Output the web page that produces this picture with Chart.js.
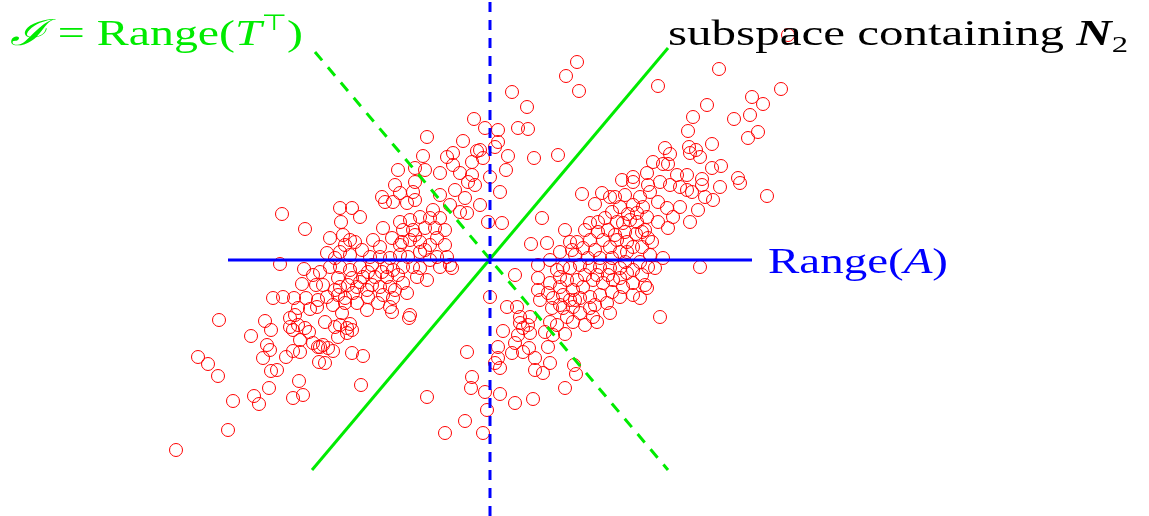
<!DOCTYPE html>
<html lang="en">
<head>
<meta charset="UTF-8">
<title>Range(A) and subspaces</title>
<script src="https://cdn.jsdelivr.net/npm/chart.js"></script>
<style>
  html, body { margin: 0; padding: 0; background: #fff; }
  #wrap { width: 1149px; height: 516px; position: relative; }
</style>
</head>
<body>
<div id="wrap"><canvas id="chart"></canvas></div>
<script>
// sample cloud (centre of the picture = origin)
const sampleX = [
  -16,-63,-27,-67,-43,-37,-37,-18,-13,-92,-75,-65,-50,-30,-18,
  87,76,89,22,37,-5,8,28,38,8,5,-10,18,44,68,-7,16,0,143,
  229,168,291,262,273,217,203,260,244,198,268,258,222,175,199,206,200,180,210,163,173,178,222,231,157,187,197,212,248,298,132,
  -208,-185,-210,-186,-177,-188,-174,-217,-207,-196,-184,-192,-180,-195,-200,-173,
  -271,-225,-219,-239,-200,-192,-185,-197,-181,-190,-223,-220,-227,-177,-172,-204,-197,-190,-171,-292,-282,-272,-219,-213,-191,-221,-236,-231,-257,-197,-187,-262,-314,
  -81,-165,-155,-150,-143,-138,-140,-152,-143,-167,-162,-157,-170,-165,-138,-127,-129,-63,-23,-18,-19,-25,-45,
  30,38,33,40,28,60,67,55,63,75,83,95,107,13,25,22,33,39,58,8,5,10,8,45,45,53,60,84,86,75,-5,10,25,43,-3,-7,
  -95,-75,-22,-15,-108,-105,-97,-90,-77,-75,-83,-150,-138,-130,-149,-57,-60,-25,-23,-30,
  -90,-80,-70,-107,-87,-77,-55,-45,-53,-160,-147,-140,-135,-145,-163,-150,
  -117,-110,-98,-88,-80,-70,-60,-70,-45,-43,-120,-110,-100,-90,-82,-53,-60,-40,
  -160,-150,-140,-130,-122,-103,-97,-87,-77,-70,-50,-38,
  -152,-138,-127,-115,-103,-92,-73,-63,-167,-150,-142,-133,-123,-110,-100,-87,
  -163,-152,-137,-122,-107,-97,-83,-157,-145,-133,-112,-100,-148,-123,-98,-80,
  -10,10,-2,12,52,92,105,112,120,125,143,143,41,57,
  100,108,118,127,133,140,147,147,80,87,82,93,100,105,113,120,127,137,143,130,137,
  48,60,25,48,67,73,80,90,100,110,120,130,137,143,
  48,60,70,77,87,83,93,103,113,123,133,143,
  0,50,63,73,80,90,100,110,117,130,143,
  17,27,62,73,83,90,100,120,30,40,77,103,
  170,180,190,197,202,212,230,250,215,223,277,150,160,168,177,190,208,183,200,178,168,157,153,
  158,162,152,173,165,158,210,157,150,170,155,160,152,155,
  122,130,138,115,152,146,135,125,108,95,85,98,110,122,135,150,95,107,118,130,70,85,105,70,58,122,70,75,135,158,
  -155,-140,-128,-118,-108,-130,-118,-155,-145,-90,-75,-65,-50,-40,-35,-50,-65,-95,-170,-172
];
const sampleY = [
  141,123,119,104,103,107,95,98,109,90,92,90,87,87,85,
  198,184,169,168,153,132,130,132,131,118,113,110,104,102,105,102,90,83,83,
  191,174,171,163,156,155,143,145,141,129,128,122,116,112,113,110,107,106,103,98,96,96,92,94,87,85,85,81,82,225,80,
  46,31,-4,-9,-15,-24,-25,-38,-37,-38,-38,-48,-49,-55,-58,-47,
  -60,-61,-70,-76,-67,-65,-68,-70,-72,-80,-85,-90,-98,-83,-87,-97,-91,-92,-102,-97,-104,-116,-111,-110,-121,-128,-136,-144,-141,-138,-135,-170,-190,
  -58,-62,-67,-65,-68,-70,-64,-77,-73,-85,-88,-91,-87,-103,-93,-96,-125,-137,-92,-117,-128,-161,-173,
  -63,-65,-68,-73,-75,-62,-65,-72,-75,-74,-62,-65,-62,-71,-83,-93,-92,-88,-87,-87,-103,-108,-98,-98,-110,-113,-103,-105,-114,-128,-132,-134,-143,-139,-150,-173,
  75,78,78,75,63,58,58,67,68,60,57,52,52,43,38,50,42,62,47,48,
  38,40,43,32,30,30,32,30,22,22,25,20,18,15,7,8,
  20,13,22,18,20,18,15,8,15,3,3,3,2,5,3,3,0,-5,
  -7,-7,-10,-7,-12,-7,-10,-7,-7,-8,-7,-8,
  -18,-18,-17,-17,-17,-15,-17,-20,-25,-27,-25,-27,-30,-27,-27,-23,
  -37,-35,-33,-37,-35,-38,-33,-45,-43,-43,-43,-47,-53,-50,-52,-55,
  55,68,38,37,42,66,56,67,63,63,78,55,16,17,
  37,38,30,38,37,40,38,47,18,18,10,12,20,10,20,13,20,18,13,8,8,
  -5,0,-15,-18,-10,-7,-8,-5,-7,-7,-8,-8,-13,-10,
  -30,-23,-17,-20,-20,-30,-27,-20,-23,-20,-27,-23,
  -37,-40,-38,-35,-40,-38,-37,-35,-43,-37,-35,
  -47,-47,-48,-48,-47,-53,-48,-53,-57,-57,-57,-57,
  78,75,73,70,68,75,73,77,63,60,64,63,68,58,52,53,50,43,38,32,38,43,53,
  22,18,13,2,-8,-7,-7,-28,-38,-57,30,5,-15,-25,
  48,53,46,42,28,26,28,25,28,30,5,2,2,2,-2,-2,-15,-15,-15,-18,-27,-40,-45,-45,-33,-32,8,30,65,75,
  2,5,10,-5,-12,-22,-25,-30,-38,15,25,32,42,55,70,65,10,-30,-12,-40
];

// reference lines: [x0, x1] / [y0, y1]
const rangeAX = [-262, 262],  rangeAY = [0, 0];
const verticalX = [0, 0],     verticalY = [-256, 260];
const subspaceX = [-178, 178], subspaceY = [-210, 212];
const rangeTX = [-175, 178],  rangeTY = [208, -210];

const green = 'rgb(0,235,0)';
const blue = '#0000ff';

function seg(xs, ys) {
  return xs.map((x, i) => ({ x: x, y: ys[i] }));
}

function lineSet(xs, ys, color, dash) {
  return {
    type: 'line',
    data: seg(xs, ys),
    borderColor: color,
    borderWidth: 3,
    borderDash: dash || [],
    pointRadius: 0,
    fill: false,
    tension: 0
  };
}

// labels are drawn as text runs after the datasets
function drawRuns(ctx, x0, baseline, width, runs) {
  ctx.save();
  let total = 0;
  runs.forEach(r => { ctx.font = r.font; total += ctx.measureText(r.t).width; });
  const k = width / total;
  ctx.translate(x0, baseline);
  ctx.scale(k, 1);
  let x = 0;
  runs.forEach(r => {
    ctx.font = r.font;
    ctx.fillStyle = r.color;
    ctx.fillText(r.t, x, r.dy || 0);
    x += ctx.measureText(r.t).width;
  });
  ctx.restore();
}

const serif = '"Liberation Serif", "DejaVu Serif", serif';

const labelsPlugin = {
  id: 'labels',
  afterDatasetsDraw(chart) {
    const ctx = chart.ctx;
    ctx.textBaseline = 'alphabetic';
    drawRuns(ctx, 10, 45, 293, [
      { t: 'ℐ', font: 'italic 36px ' + serif, color: green },
      { t: ' = Range(', font: '36px ' + serif, color: green },
      { t: 'T', font: 'italic 36px ' + serif, color: green },
      { t: '⊤', font: '22px "DejaVu Sans", sans-serif', color: green, dy: -15 },
      { t: ')', font: '36px ' + serif, color: green }
    ]);
    drawRuns(ctx, 668, 45, 460, [
      { t: 'subspace containing ', font: '36px ' + serif, color: '#000' },
      { t: 'N', font: 'italic bold 36px ' + serif, color: '#000' },
      { t: '2', font: '24px ' + serif, color: '#000', dy: 7 }
    ]);
    drawRuns(ctx, 768, 273, 180, [
      { t: 'Range(', font: '36px ' + serif, color: blue },
      { t: 'A', font: 'italic 36px ' + serif, color: blue },
      { t: ')', font: '36px ' + serif, color: blue }
    ]);
  }
};

new Chart(document.getElementById('chart'), {
  type: 'scatter',
  data: {
    datasets: [
      lineSet(rangeAX, rangeAY, blue),
      lineSet(verticalX, verticalY, blue, [10, 8]),
      lineSet(subspaceX, subspaceY, green),
      lineSet(rangeTX, rangeTY, green, [11, 9]),
      {
        data: seg(sampleX, sampleY),
        pointStyle: 'circle',
        pointRadius: 6.5,
        borderWidth: 1,
        borderColor: '#ff0000',
        backgroundColor: 'rgba(0,0,0,0)'
      }
    ]
  },
  options: {
    responsive: true,
    maintainAspectRatio: false,
    animation: false,
    layout: { padding: 0, autoPadding: false },
    plugins: { legend: { display: false }, tooltip: { enabled: false } },
    scales: {
      x: { type: 'linear', min: -490, max: 659, display: false },
      y: { type: 'linear', min: -256, max: 260, display: false }
    }
  },
  plugins: [labelsPlugin]
});
</script>
</body>
</html>
